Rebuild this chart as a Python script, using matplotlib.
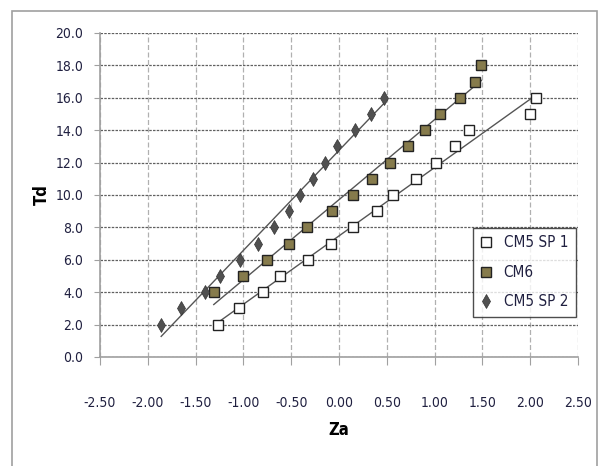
import numpy as np
import matplotlib
matplotlib.use("Agg")
import matplotlib.pyplot as plt
from matplotlib.patches import Rectangle

plt.rcParams["font.family"] = ["DejaVu Sans"]
plt.rcParams["font.stretch"] = "condensed"

# Td values (y) and Za values (x)
td_sp1 = [2, 3, 4, 5, 6, 7, 8, 9, 10, 11, 12, 13, 14, 15, 16]
za_sp1 = [-1.27, -1.05, -0.80, -0.62, -0.32, -0.08, 0.15, 0.40, 0.56, 0.81, 1.01, 1.21, 1.36, 2.00, 2.06]

td_cm6 = [4, 5, 6, 7, 8, 9, 10, 11, 12, 13, 14, 15, 16, 17, 18]
za_cm6 = [-1.31, -1.00, -0.75, -0.52, -0.33, -0.07, 0.15, 0.35, 0.53, 0.72, 0.90, 1.06, 1.27, 1.42, 1.49]

td_sp2 = [2, 3, 4, 5, 6, 7, 8, 9, 10, 11, 12, 13, 14, 15, 16]
za_sp2 = [-1.86, -1.65, -1.40, -1.24, -1.04, -0.85, -0.68, -0.52, -0.41, -0.27, -0.15, -0.02, 0.17, 0.33, 0.47]

series = [
    ("CM5 SP 1", za_sp1, td_sp1, "s", "white"),
    ("CM6", za_cm6, td_cm6, "s", "#867b4c"),
    ("CM5 SP 2", za_sp2, td_sp2, "d", "#505050"),
]

fig = plt.figure(figsize=(5.98, 4.66), dpi=100)
W, H = 598, 466
ax = fig.add_axes([100 / W, 1 - 357 / H, 478 / W, 324 / H])

# outer chart frame
fig.patches.append(Rectangle((12 / W, -0.01), 585 / W, 1 - 11 / H + 0.01,
                             transform=fig.transFigure, fill=False,
                             edgecolor="#a0a0a0", lw=1.2))

for name, x, y, mk, col in series:
    x = np.array(x); y = np.array(y)
    m, b = np.polyfit(x, y, 1)
    xs = np.array([x.min(), x.max()])
    ax.plot(xs, m * xs + b, color="#555555", lw=1.0, zorder=2)
    if mk == "s":
        ax.plot(x, y, ls="none", marker=mk, ms=7, mfc=col, mec="#222222",
                mew=1.0, label=name, zorder=3)
    else:
        ax.plot(x, y, ls="none", marker=mk, ms=7, mfc=col, mec="#333333",
                mew=0.5, label=name, zorder=3)

ax.set_xlim(-2.5, 2.5)
ax.set_ylim(0, 20)
xt = np.arange(-2.5, 2.51, 0.5)
yt = np.arange(0, 20.1, 2)
ax.set_xticks(xt)
ax.set_yticks(yt)
ax.set_xticklabels([f"{v:.2f}" for v in xt])
ax.set_yticklabels([f"{v:.1f}" for v in yt])
ax.tick_params(axis="x", direction="out", length=6, pad=22, labelsize=10,
               color="#a0a0a0", labelcolor="#202040")
ax.tick_params(axis="y", direction="out", length=4, pad=8, labelsize=10,
               color="#a0a0a0", labelcolor="#202040")

ax.grid(axis="y", ls=(0, (2, 1)), color="#606060", lw=0.9)
ax.grid(axis="x", ls=(0, (4, 2)), color="#b0b0b0", lw=0.9)
ax.set_axisbelow(True)
for s in ["top", "right"]:
    ax.spines[s].set_visible(False)
for s in ["left", "bottom"]:
    ax.spines[s].set_color("#a0a0a0")
    ax.spines[s].set_linewidth(1.2)

ax.set_xlabel("Za", fontsize=12, fontweight="bold", labelpad=8)
ax.set_ylabel("Td", fontsize=12, fontweight="bold", labelpad=3)

leg = ax.legend(loc="lower left", bbox_to_anchor=((473 - 100) / 478, (357 - 317) / 324),
                frameon=True, fancybox=False, fontsize=11, handlelength=0.7,
                handletextpad=0.8, borderpad=0.5, labelspacing=0.95,
                borderaxespad=0)
leg.get_frame().set_edgecolor("#202020")
leg.get_frame().set_linewidth(1.0)
for t in leg.get_texts():
    t.set_color("#202040")

fig.savefig("out.png", dpi=100)
